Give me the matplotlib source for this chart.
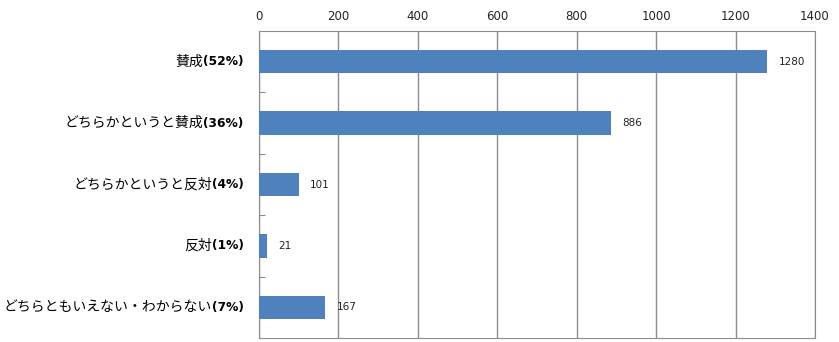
import numpy as np
import matplotlib.pyplot as plt

labels = ["賛成", "どちらかというと賛成", "どちらかというと反対", "反対", "どちらともいえない・わからない"]
pcts = ["(52%)", "(36%)", "(4%)", "(1%)", "(7%)"]
counts = [1280, 886, 101, 21, 167]
xticks = [0, 200, 400, 600, 800, 1000, 1200, 1400]

fig = plt.figure(figsize=(8.39, 3.42), dpi=100)
ax = fig.add_axes([259 / 839, 4 / 342, 556 / 839, 307 / 342])

y = np.arange(len(labels))
ax.barh(y, counts, height=0.38, color="#4f81bd", zorder=3)
ax.set_xlim(0, 1400)
ax.set_ylim(len(labels) - 0.5, -0.5)
ax.set_xticks(xticks)
ax.xaxis.tick_top()
ax.tick_params(axis="x", length=0, labelsize=8.5, colors="#222222", pad=6)
ax.grid(axis="x", color="#8c8c8c", linewidth=1, zorder=0)
ax.set_yticks(np.arange(len(labels) - 1) + 0.5)
ax.set_yticklabels([])
ax.tick_params(axis="y", direction="in", length=4, color="#8c8c8c")
for s in ax.spines.values():
    s.set_color("#8c8c8c")

for yi, v in zip(y, counts):
    ax.annotate(str(v), (v, yi), xytext=(8, 0), textcoords="offset points",
                va="center", ha="left", fontsize=7.5, color="#222222")

fig.canvas.draw()
r = fig.canvas.get_renderer()
for yi, lab, p in zip(y, labels, pcts):
    t = ax.annotate(p, (0, yi), xycoords=("axes fraction", "data"),
                    xytext=(-11, 0), textcoords="offset points",
                    ha="right", va="center", fontsize=8.8, fontweight="bold",
                    color="black")
    w = t.get_window_extent(r).width * 72 / fig.dpi
    ax.annotate(lab, (0, yi), xycoords=("axes fraction", "data"),
                xytext=(-11 - w, 0), textcoords="offset points",
                ha="right", va="center", fontsize=10,
                family=["Noto Sans CJK JP", "DejaVu Sans"], color="black")

fig.savefig("out.png", dpi=100)
